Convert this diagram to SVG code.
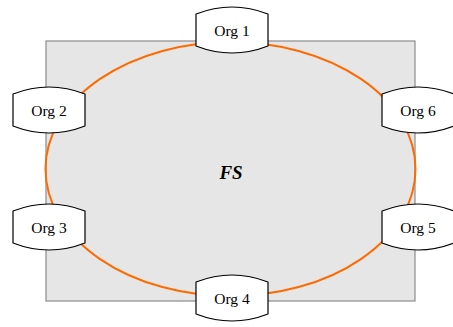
<svg xmlns="http://www.w3.org/2000/svg" width="453" height="327" viewBox="0 0 453 327">
  <style>
    .node use { fill: #ffffff; stroke: #000000; stroke-width: 1.2; }
    .node text { font-family: "Liberation Serif", "Times New Roman", serif; font-size: 15.5px; fill: #000000; text-anchor: middle; dominant-baseline: central; }
    .ring { fill: none; stroke: #ff6a00; stroke-width: 2; }
  </style>
  <defs>
    <!-- barrel-shaped node body, 72 wide, centred on origin -->
    <path id="barrel" d="M-36,-16 Q0,-30 36,-16 L36,16 Q0,30 -36,16 Z" stroke-linejoin="round"/>
  </defs>

  <!-- shared file system area -->
  <rect x="46" y="41" width="369" height="260" fill="#e6e6e6" stroke="#8c8c8c" stroke-width="1.2"/>
  <text x="231" y="172" font-family="Liberation Serif, serif" font-size="19" font-weight="bold" font-style="italic" text-anchor="middle" dominant-baseline="central">FS</text>

  <g id="connectors">
    <ellipse class="ring" cx="230.5" cy="169" rx="185" ry="127"/>
  </g>

  <g id="org1" class="node" transform="translate(232,30)"><use href="#barrel"/><text x="0" y="0">Org 1</text></g>
  <g id="org2" class="node" transform="translate(49,110)"><use href="#barrel"/><text x="0" y="0">Org 2</text></g>
  <g id="org3" class="node" transform="translate(49,227)"><use href="#barrel"/><text x="0" y="0">Org 3</text></g>
  <g id="org4" class="node" transform="translate(232,298)"><use href="#barrel"/><text x="0" y="0">Org 4</text></g>
  <g id="org5" class="node" transform="translate(418,227)"><use href="#barrel"/><text x="0" y="0">Org 5</text></g>
  <g id="org6" class="node" transform="translate(418,110)"><use href="#barrel"/><text x="0" y="0">Org 6</text></g>
</svg>
